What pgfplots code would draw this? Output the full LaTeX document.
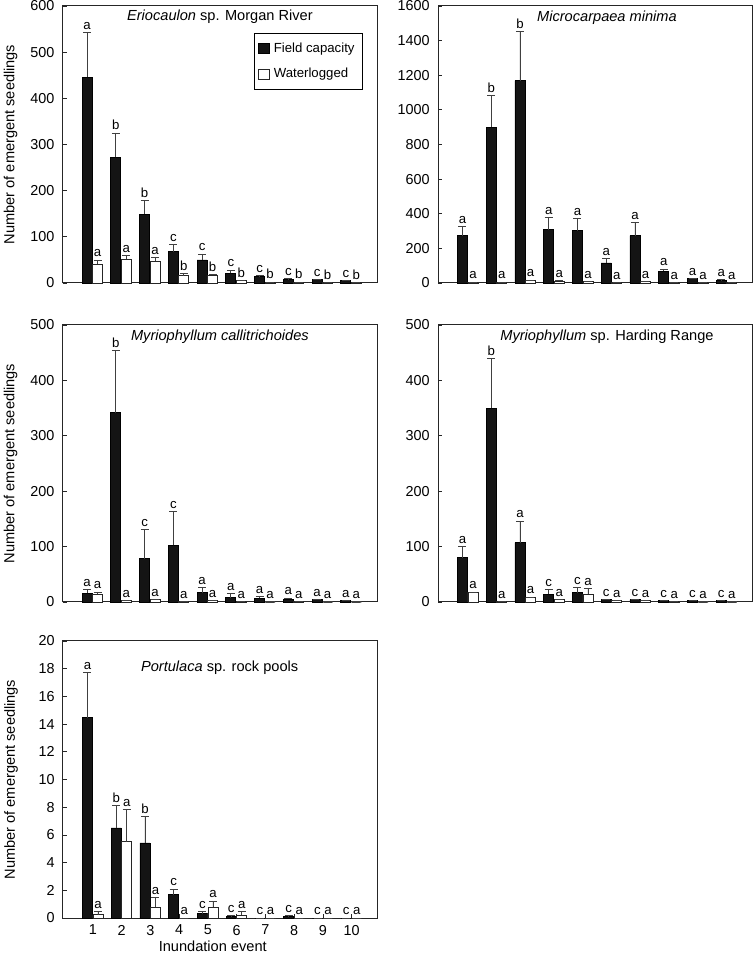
\documentclass[border=0pt]{standalone}
\usepackage{pgfplots}
\usepackage{pgfplotstable}
\pgfplotsset{compat=1.18}
\usepackage{fontspec}
\setmainfont{Liberation Sans}

\pgfplotstableread{
x f fe fl w we wl
1 446 96 a 41 9 a
2 272 53 b 51 9 a
3 149 30 b 47 8 a
4 68 16 c 16 5 b
5 50 13 c 17 2 b
6 21 7 c 5 1 b
7 14 2 c 2 0 b
8 8 1 c 2 0 b
9 7 1 c 1 0 b
10 5 1 c 1 0 b
}\tA
\pgfplotstableread{
x f fe fl w we wl
1 274 51 a 5 0 a
2 900 184 b 5 0 a
3 1169 282 b 14 3 a
4 307 72 a 12 3 a
5 301 72 a 8 0 a
6 116 26 a 3 0 a
7 274 74 a 7 0 a
8 68 13 a 3 0 a
9 25 2 a 4 0 a
10 16 2 a 2 0 a
}\tB
\pgfplotstableread{
x f fe fl w we wl
1 16 7 a 14 4 a
2 342 112 b 2 0 a
3 78 53 c 4 1 a
4 102 62 c 1 0 a
5 17 9 a 3 0 a
6 8 7 a 1 0 a
7 7 3 a 0 0 a
8 5 2 a 1 0 a
9 4 1 a 0 0 a
10 2 0 a 0 0 a
}\tC
\pgfplotstableread{
x f fe fl w we wl
1 80 20 a 18 0 a
2 350 90 b 1 0 a
3 107 39 a 8 1 a
4 14 8 c 4 0 a
5 17 9 c 14 11 a
6 4 1 c 3 0 a
7 4 0 c 3 0 a
8 3 0 c 1 0 a
9 2 0 c 0 0 a
10 2 0 c 0 0 a
}\tD
\pgfplotstableread{
x f fe fl w we wl
1 14.45 3.3 a 0.24 0.24 a
2 6.5 1.6 b 5.5 2.33 a
3 5.42 1.92 b 0.77 0.72 a
4 1.69 0.41 c 0 0 a
5 0.31 0.17 c 0.77 0.46 a
6 0.12 0.05 c 0.2 0.26 a
7 0 0 c 0 0 a
8 0.12 0.05 c 0 0 a
9 0 0 c 0 0 a
10 0 0 c 0 0 a
}\tE

\newcommand{\bars}[1]{%
\addplot[ybar, bar width=0.35, bar shift=0pt, fill=black!92, draw=black, line width=0.4pt,
  error bars/.cd, y dir=plus, y explicit,
  error bar style={black!75, line width=0.4pt},
  error mark options={rotate=90, black!75, mark size=2pt, line width=0.4pt}]
  table[x expr=\thisrow{x}-0.19, y=f, y error=fe] {#1};
\addplot[ybar, bar width=0.35, bar shift=0pt, fill=white, draw=black!85, line width=0.4pt,
  error bars/.cd, y dir=plus, y explicit,
  error bar style={black!75, line width=0.4pt},
  error mark options={rotate=90, black!75, mark size=2pt, line width=0.4pt}]
  table[x expr=\thisrow{x}+0.175, y=w, y error=we] {#1};
\addplot[forget plot, draw=none, mark=none, nodes near coords, point meta=explicit symbolic]
  table[x expr=\thisrow{x}-0.19, y expr=\thisrow{f}+\thisrow{fe}, meta=fl] {#1};
\addplot[forget plot, draw=none, mark=none, nodes near coords, point meta=explicit symbolic]
  table[x expr=\thisrow{x}+0.175, y expr=\thisrow{w}+\thisrow{we}, meta=wl] {#1};
}

\pgfplotsset{
  every axis/.append style={
    scale only axis, width=157.3pt, height=138.5pt,
    anchor=south west,
    xmin=-0.04, xmax=10.9, ymin=0,
    axis line style={black!85, line width=0.5pt},
    tick style={black!85, line width=0.4pt},
    major tick length=2pt,
    tick pos=left,
    tick align=inside,
    clip=false,
    font=\fontsize{7}{8.4}\selectfont,
    tick label style={font=\fontsize{7.2}{8.4}\selectfont},
    /pgf/number format/assume math mode=true,
    /pgf/number format/1000 sep={},
    every node near coord/.append style={font=\fontsize{6.6}{7}\selectfont, text=black, inner sep=1.3pt, anchor=south},
    yticklabel style={xshift=-0.6pt},
  },
  ylab/.style={ylabel={Number of emergent seedlings},
    ylabel style={at={(axis description cs:-0.165,0.5)}, anchor=center, font=\fontsize{7.3}{8.4}\selectfont}},
}

\begin{document}
\begin{tikzpicture}
\useasboundingbox (0,0) rectangle (376.5pt,478pt);

% Panel 1
\begin{axis}[at={(31.3pt,336.5pt)}, ymax=600, ytick={0,100,...,600}, xtick=\empty, ylab,
  legend style={at={(0.955,0.9025)}, anchor=north east, draw=black, line width=0.5pt,
    font=\fontsize{6.6}{8}\selectfont, row sep=2.5pt, inner xsep=2pt, inner ysep=2.5pt, cells={anchor=west}},
  legend image code/.code={\draw[#1, line width=0.5pt] (0pt,-2.6pt) rectangle (5.2pt,2.6pt);}]
\bars{\tA}
\legend{Field capacity, Waterlogged}
\node[font=\fontsize{7.3}{8.4}\selectfont] at (rel axis cs:0.5,0.962) {\textit{Eriocaulon} sp. Morgan River};
\end{axis}

% Panel 2
\begin{axis}[at={(219pt,336.5pt)}, ymax=1600, ytick={0,200,...,1600}, xtick=\empty]
\bars{\tB}
\node[font=\fontsize{7.3}{8.4}\selectfont] at (rel axis cs:0.537,0.957) {\textit{Microcarpaea minima}};
\end{axis}

% Panel 3
\begin{axis}[at={(31.3pt,177pt)}, ymax=500, ytick={0,100,...,500}, xtick=\empty, ylab]
\bars{\tC}
\node[font=\fontsize{7.3}{8.4}\selectfont] at (rel axis cs:0.5,0.958) {\textit{Myriophyllum callitrichoides}};
\end{axis}

% Panel 4
\begin{axis}[at={(219pt,177pt)}, ymax=500, ytick={0,100,...,500}, xtick=\empty]
\bars{\tD}
\node[font=\fontsize{7.3}{8.4}\selectfont] at (rel axis cs:0.537,0.958) {\textit{Myriophyllum} sp. Harding Range};
\end{axis}

% Panel 5
\begin{axis}[at={(31.5pt,19pt)}, ymax=20, ytick={0,2,...,20}, xtick={1,...,10}, ylab,
  xlabel={Inundation event},
  xlabel style={at={(axis description cs:0.476,-0.102)}, anchor=center, font=\fontsize{7.3}{8.4}\selectfont}]
\bars{\tE}
\node[font=\fontsize{7.3}{8.4}\selectfont] at (rel axis cs:0.498,0.902) {\textit{Portulaca} sp. rock pools};
\end{axis}
\end{tikzpicture}
\end{document}
